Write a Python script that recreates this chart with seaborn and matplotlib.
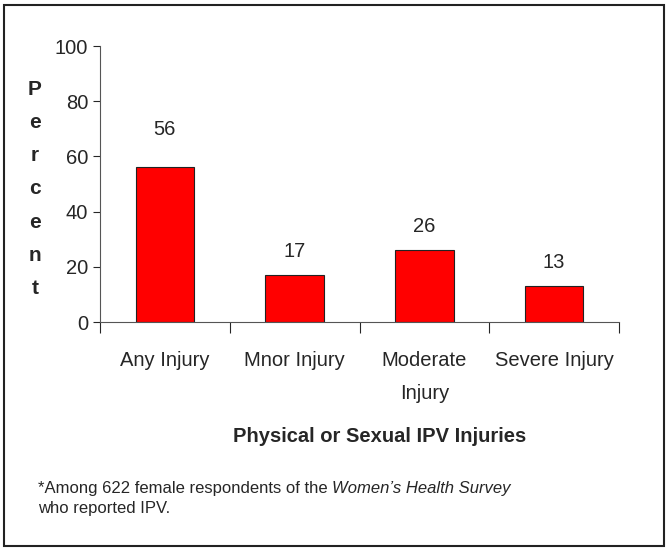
import matplotlib
matplotlib.use("Agg")
import matplotlib.pyplot as plt
import matplotlib.patches as mpatches
import seaborn as sns
import pandas as pd

categories = ["Any Injury", "Minor Injury", "Moderate\nInjury", "Severe Injury"]
tick_labels = ["Any Injury", "Mnor Injury", "Moderate\nInjury", "Severe Injury"]
percents = [56, 17, 26, 13]
# how far above each bar its number sits (data units)
label_offsets = [13.6, 8.7, 8.7, 8.4]

sns.set_style("white")
plt.rcParams['font.family'] = ['Liberation Sans', 'DejaVu Sans']

df = pd.DataFrame({"injury": categories, "percent": percents})

fig = plt.figure(figsize=(6.68, 5.48), dpi=100)
ax = fig.add_axes([100 / 668, 1 - 322 / 548, 519 / 668, 276 / 548])

sns.barplot(data=df, x="injury", y="percent", color="#FF0000", saturation=1,
            edgecolor="#222222", linewidth=0.8, width=0.45, ax=ax)

for i, v in enumerate(percents):
    ax.text(i, v + label_offsets[i], str(v), ha="center", va="center", fontsize=14.5)

ax.set_ylim(0, 100)
ax.set_xlim(-0.5, len(categories) - 0.5)
ax.set_yticks([0, 20, 40, 60, 80, 100])
ax.tick_params(axis="y", labelsize=14.5, length=5, width=0.8, direction="out",
               left=True, pad=3.5)

# tick marks between categories, labels at the bar centres
ax.set_xticks([i - 0.5 for i in range(len(categories) + 1)])
ax.set_xticklabels([])
ax.set_xticks(range(len(categories)), minor=True)
ax.set_xticklabels(tick_labels, minor=True, fontsize=14.5, linespacing=1.9)
ax.tick_params(axis="x", which="major", length=8, width=0.8, direction="out", bottom=True)
ax.tick_params(axis="x", which="minor", length=0, pad=21)

ax.set_xlabel("")
ax.set_ylabel("")
for s in ["top", "right"]:
    ax.spines[s].set_visible(False)
for s in ["left", "bottom"]:
    ax.spines[s].set_color("#555555")
    ax.spines[s].set_linewidth(0.8)

fig.text(35 / 668, 1 - 189 / 548, "\n".join("Percent"), ha="center", va="center",
         fontsize=15, fontweight="bold", linespacing=1.95)
fig.text(380 / 668, 1 - 436 / 548, "Physical or Sexual IPV Injuries", ha="center",
         va="center", fontsize=14.5, fontweight="bold")

t1 = fig.text(38 / 668, 1 - 488 / 548, "*Among 622 female respondents of the ",
              ha="left", va="center", fontsize=12)
fig.canvas.draw()
bb = t1.get_window_extent()
fig.text(bb.x1 / fig.bbox.width, 1 - 488 / 548, "Women\u2019s Health Survey",
         ha="left", va="center", fontsize=12, style="italic")
fig.text(38 / 668, 1 - 508 / 548, "who reported IPV.", ha="left", va="center", fontsize=12)

fig.patches.append(mpatches.Rectangle((4 / 668, 1 - 546 / 548), 660 / 668, 541 / 548,
                                      transform=fig.transFigure, fill=False,
                                      edgecolor="#222222", linewidth=1.5))

fig.savefig("out.png", dpi=100)
